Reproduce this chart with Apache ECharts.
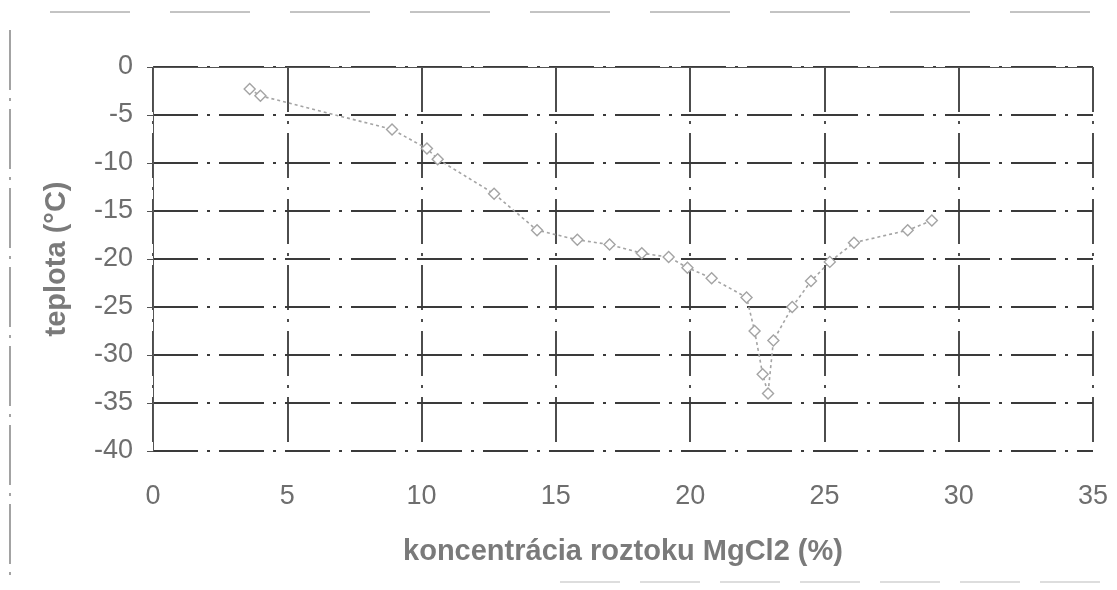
<!DOCTYPE html>
<html>
<head>
<meta charset="utf-8">
<script src="https://cdn.jsdelivr.net/npm/echarts@6/dist/echarts.min.js"></script>
<style>
  html, body { margin: 0; padding: 0; background: #fff; }
  #chart { width: 1117px; height: 590px; }
</style>
</head>
<body>
<div id="chart"></div>
<script>
// MgCl2 concentration (%) vs freezing temperature (°C)
var concentration = [3.6, 4.0, 8.9, 10.2, 10.6, 12.7, 14.3, 15.8, 17.0, 18.2, 19.2, 19.9,
  20.8, 22.1, 22.4, 22.7, 22.9, 23.1, 23.8, 24.5, 25.2, 26.1, 28.1, 29.0];
var temperature = [-2.3, -3.0, -6.5, -8.5, -9.6, -13.2, -17.0, -18.0, -18.5, -19.4, -19.8, -20.9,
  -22.0, -24.0, -27.5, -32.0, -34.0, -28.5, -25.0, -22.3, -20.3, -18.3, -17.0, -16.0];
var xTicks = [0, 5, 10, 15, 20, 25, 30, 35];
var yTicks = [0, -5, -10, -15, -20, -25, -30, -35, -40];

var points = concentration.map(function (c, i) { return [c, temperature[i]]; });

var chart = echarts.init(document.getElementById("chart"));
var labelFont = { fontFamily: "Liberation Sans, Arial, sans-serif", fontSize: 27, color: "#6e6e6e" };
var titleFont = { fontFamily: "Liberation Sans, Arial, sans-serif", fontSize: 29, fontWeight: "bold", color: "#7a7a7a" };
var gridLine = { color: "#3a3a3a", width: 1.8, type: [45, 9, 3, 9] };

var option = {
  backgroundColor: "#fff",
  animation: false,
  grid: { left: 153, top: 67, right: 24, bottom: 139 },
  xAxis: {
    type: "value",
    min: xTicks[0],
    max: xTicks[xTicks.length - 1],
    interval: 5,
    name: "koncentrácia roztoku MgCl2 (%)",
    nameLocation: "middle",
    nameGap: 86,
    nameTextStyle: titleFont,
    axisLine: { show: true, lineStyle: { color: "#555", width: 1 } },
    axisTick: { show: false },
    axisLabel: Object.assign({ margin: 32 }, labelFont),
    splitLine: { show: true, lineStyle: gridLine }
  },
  yAxis: {
    type: "value",
    min: yTicks[yTicks.length - 1],
    max: yTicks[0],
    interval: 5,
    name: "teplota (°C)",
    nameLocation: "middle",
    nameGap: 82,
    nameTextStyle: titleFont,
    axisLine: { show: true, lineStyle: { color: "#555", width: 1 } },
    axisTick: { show: true, length: 6, lineStyle: { color: "#555" } },
    axisLabel: Object.assign({ margin: 20 }, labelFont),
    splitLine: { show: true, lineStyle: gridLine }
  },
  series: [{
    type: "line",
    data: points,
    symbol: "diamond",
    symbolSize: 11,
    showSymbol: true,
    lineStyle: { color: "#a4a4a4", width: 1.6, type: [3, 3] },
    itemStyle: { color: "#fff", borderColor: "#a4a4a4", borderWidth: 1.4 }
  }],
  graphic: [
    { type: "line", shape: { x1: 10, y1: 30, x2: 10, y2: 580 }, style: { stroke: "#666", lineWidth: 1.2, lineDash: [60, 8, 3, 8] } },
    { type: "line", shape: { x1: 50, y1: 12, x2: 1117, y2: 12 }, style: { stroke: "#888", lineWidth: 1, lineDash: [80, 40] } },
    { type: "line", shape: { x1: 560, y1: 582, x2: 1117, y2: 582 }, style: { stroke: "#bbb", lineWidth: 1, lineDash: [60, 20] } }
  ]
};

chart.setOption(option);
</script>
</body>
</html>
